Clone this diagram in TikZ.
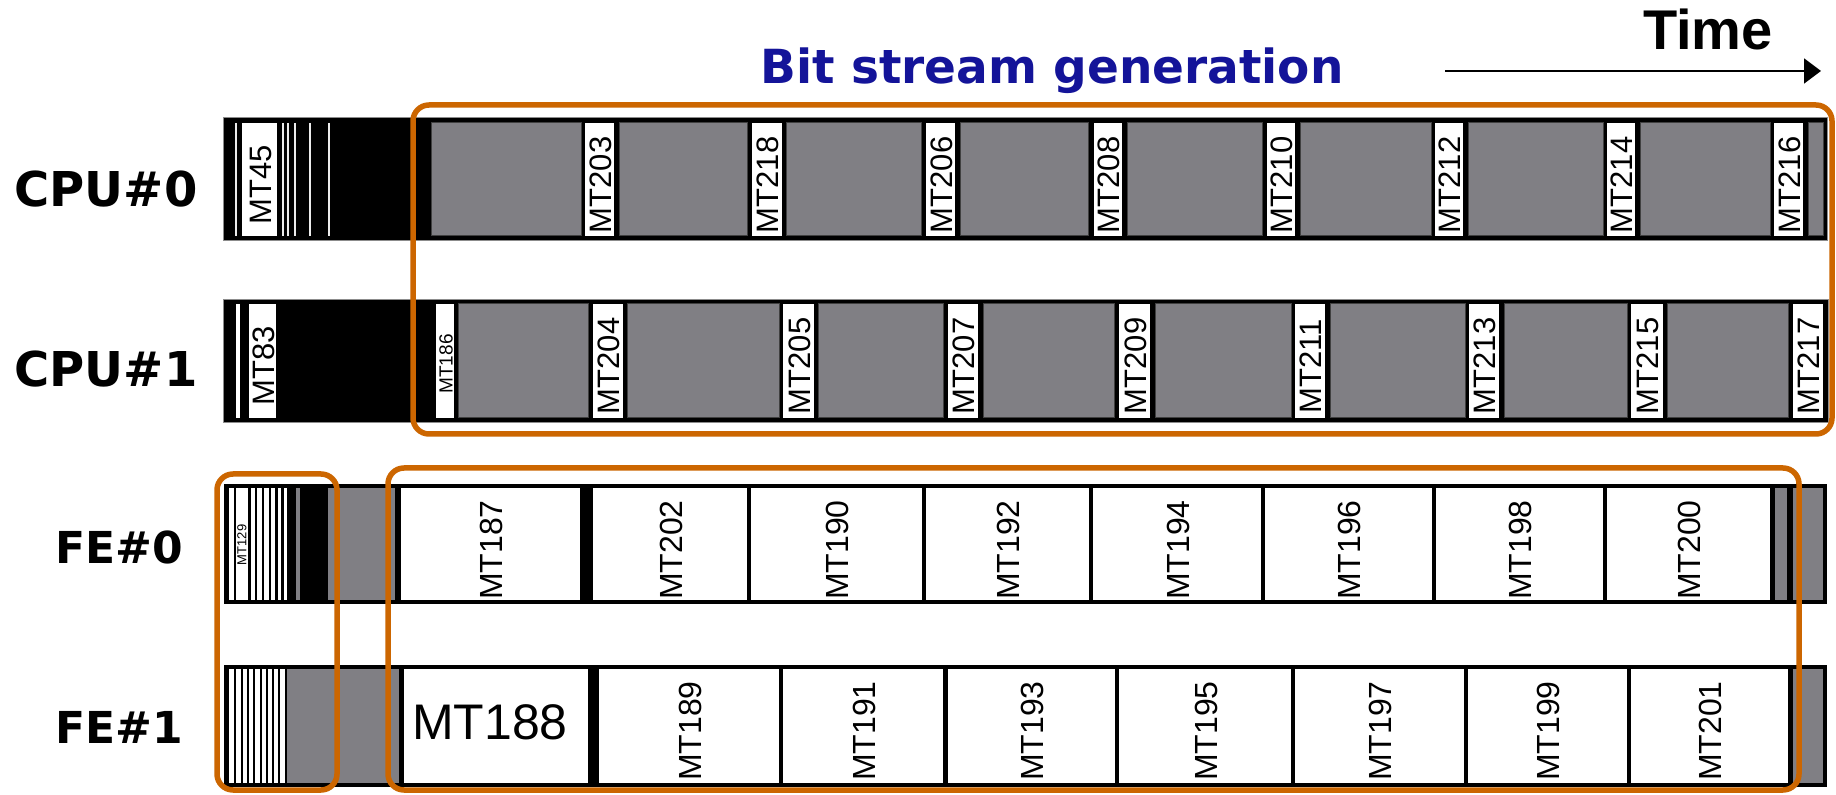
\documentclass[tikz,border=0pt]{standalone}
\usepackage{fontspec}
\setmainfont{Liberation Sans}
\newfontfamily\dvfont{DejaVu Sans}
\usetikzlibrary{arrows.meta}
\definecolor{gfill}{RGB}{128,127,132}
\definecolor{orng}{RGB}{204,102,0}
\definecolor{bstream}{RGB}{20,20,153}
\begin{document}
\begin{tikzpicture}[x=0.5pt,y=-0.5pt,
  graybox/.style={fill=gfill, draw=black!75, line width=0.5pt},
  plaingray/.style={fill=gfill},
  wbox/.style={fill=white},
  obox/.style={draw=orng, line width=2.75pt, rounded corners=8pt},
  cpulab/.style={rotate=90, inner sep=0pt, font=\fontsize{15.5}{15.5}\selectfont},
  felab/.style={rotate=90, inner sep=0pt, font=\fontsize{16}{16}\selectfont},
  rowlab/.style={anchor=base, inner sep=0pt, font=\dvfont\bfseries\fontsize{24}{28}\selectfont},
  felabel/.style={anchor=base, inner sep=0pt, font=\dvfont\bfseries\fontsize{22}{26}\selectfont},
  wline/.style={draw=white!85!gray, line width=0.8pt},
  bline/.style={draw=black, line width=1.2pt}]
\useasboundingbox[fill=white] (0,0) rectangle (1836,795);

% ---------- titles ----------
\node[font=\dvfont\bfseries\fontsize{23.5}{28}\selectfont, text=bstream, anchor=base, inner sep=0pt] (bsg) at (1052,84) {Bit stream generation};
\node[font=\bfseries\fontsize{28}{30}\selectfont, anchor=base, inner sep=0pt] (time) at (1708,50) {Time};
\coordinate (tA) at (1445,71);
\coordinate (tB) at (1821,71);
\draw[line width=1pt, -{Triangle[length=8.5pt,width=12.5pt]}] (tA) -- (tB);

% ---------- row labels ----------
\node[rowlab] (lc0) at (106,207) {CPU\#0};
\node[rowlab] (lc1) at (106,387) {CPU\#1};
\node[felabel] (lf0) at (119,564) {FE\#0};
\node[felabel] (lf1) at (119,744) {FE\#1};

% ---------- CPU#0 ----------
\filldraw[fill=black, draw=black!45, line width=0.5pt] (223,118) rectangle (1827,241);
\foreach \xx in {236,283,288,295,310,329} \draw[wline] (\xx,123) -- (\xx,236);
\foreach \a/\b in {431/581, 619/747, 786/921, 960/1088, 1127/1262, 1300/1431, 1468/1603, 1640/1770, 1808/1823}
  \draw[graybox] (\a,123) rectangle (\b,236);
\foreach \a/\b/\t in {242/277/MT45, 585/614/MT203, 752/782/MT218, 926/955/MT206, 1094/1122/MT208, 1267/1295/MT210, 1435/1463/MT212, 1607/1635/MT214, 1774/1803/MT216}{
  \fill[wbox] (\a,123) rectangle (\b,236);
  \node[cpulab] (c0\t) at ({(\a+\b)/2+1},185) {\t};
}

% ---------- CPU#1 ----------
\filldraw[fill=black, draw=black!45, line width=0.5pt] (223,300) rectangle (1828,423);
\fill[white] (236,304) rectangle (240,418);
\foreach \a/\b in {458/588, 627/779, 818/943, 983/1114, 1155/1291, 1330/1465, 1504/1627, 1667/1788}
  \draw[graybox] (\a,304) rectangle (\b,418);
\foreach \a/\b/\t in {249/276/MT83, 593/623/MT204, 783/814/MT205, 948/978/MT207, 1119/1150/MT209, 1295/1325/MT211, 1469/1499/MT213, 1631/1663/MT215, 1793/1823/MT217}{
  \fill[wbox] (\a,304) rectangle (\b,418);
  \node[cpulab] (c1\t) at ({(\a+\b)/2+1},366) {\t};
}
\fill[wbox] (436,304) rectangle (454,418);
\node[rotate=90, inner sep=0pt, font=\fontsize{9.5}{9.5}\selectfont] (c1MT186) at (446,364) {MT186};

% ---------- FE#0 ----------
\fill[black] (224,484) rectangle (1827,604);
\fill[wbox] (229,488) rectangle (287,600);
\foreach \xx in {235,249.5,256,263,270,276.5,282.5} \draw[bline] (\xx,488) -- (\xx,600);
\node[rotate=90, inner sep=0pt, font=\fontsize{6.5}{6.5}\selectfont] (f0MT129) at (242,545) {MT129};
\fill[plaingray] (296,488) rectangle (300,600);
\fill[plaingray] (328,488) rectangle (395,600);
\fill[plaingray] (1775,488) rectangle (1787,600);
\fill[plaingray] (1793,488) rectangle (1823,600);
\foreach \a/\b/\t in {401/580/MT187, 593/747/MT202, 751/922/MT190, 926/1089/MT192, 1093/1261/MT194, 1265/1432/MT196, 1436/1603/MT198, 1607/1770/MT200}{
  \fill[wbox] (\a,488) rectangle (\b,600);
  \node[felab] (f0\t) at ({(\a+\b)/2+1},550) {\t};
}

% ---------- FE#1 ----------
\fill[black] (224,665) rectangle (1827,787);
\fill[wbox] (229,669) rectangle (285,783);
\foreach \xx in {235,242,248,254,261,267,273,279} \draw[bline] (\xx,669) -- (\xx,783);
\fill[plaingray] (287,669) rectangle (399,783);
\fill[plaingray] (1793,669) rectangle (1823,783);
\fill[wbox] (404,669) rectangle (588,783);
\node[inner sep=0pt, font=\fontsize{25}{25}\selectfont] (f1MT188) at (490,722) {MT188};
\foreach \a/\b/\t in {599/779/MT189, 783/943/MT191, 948/1115/MT193, 1119/1291/MT195, 1295/1464/MT197, 1468/1627/MT199, 1631/1788/MT201}{
  \fill[wbox] (\a,669) rectangle (\b,783);
  \node[felab] (f1\t) at ({(\a+\b)/2+1},731) {\t};
}

% ---------- orange frames ----------
\draw[obox] (413,105) rectangle (1832,434);
\draw[obox] (217,474) rectangle (337,790);
\draw[obox] (388,468) rectangle (1799,790);
\end{tikzpicture}
\end{document}
